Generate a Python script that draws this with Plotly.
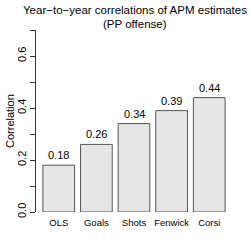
import plotly.graph_objects as go

categories = ["OLS", "Goals", "Shots", "Fenwick", "Corsi"]
values = [0.18, 0.26, 0.34, 0.39, 0.44]
labels = ["0.18", "0.26", "0.34", "0.39", "0.44"]
ytick_vals = [0.0, 0.1, 0.2, 0.3, 0.4, 0.5, 0.6, 0.7]
ytick_text = ["0.0", "", "0.2", "", "0.4", "", "0.6", ""]
title_lines = ["Year\u2212to\u2212year correlations of APM estimates", "(PP offense)"]

xpos = list(range(len(categories)))

fig = go.Figure()
fig.add_trace(go.Bar(
    x=xpos, y=values, width=0.842,
    marker=dict(color="#E6E6E6", line=dict(color="#555555", width=1)),
    hoverinfo="skip",
))

for xi, v, t in zip(xpos, values, labels):
    fig.add_annotation(x=xi, y=v, text=t, showarrow=False, yanchor="middle",
                       yshift=10, font=dict(size=11, color="black"))

# title lines (pixel rows ~10 and ~24; plot spans pixel rows 30..212)
for line, py in zip(title_lines, [10, 24]):
    fig.add_annotation(xref="paper", yref="paper", x=(134.5 - 36) / 196, y=(212 - py) / 182,
                       text=line, showarrow=False, xanchor="center", yanchor="middle",
                       font=dict(size=11.5, color="black"))

# y axis title
fig.add_annotation(xref="paper", yref="paper", x=(10 - 36) / 196, y=(212 - 121) / 182,
                   text="Correlation", showarrow=False, textangle=-90,
                   xanchor="center", yanchor="middle", font=dict(size=11, color="black"))

font_family = "Liberation Sans, Arial, sans-serif"
fig.update_layout(
    width=249, height=249,
    margin=dict(l=36, r=17, t=30, b=37, autoexpand=False),
    paper_bgcolor="white", plot_bgcolor="white",
    showlegend=False,
    font=dict(family=font_family, color="black"),
    xaxis=dict(range=[-0.605, 4.605], tickmode="array", tickvals=xpos, ticktext=categories,
               showgrid=False, zeroline=False, showline=False, ticks="",
               tickfont=dict(size=9.5), ticklabelstandoff=3, automargin=False, fixedrange=True),
    yaxis=dict(range=[0, 0.7], tickmode="array", tickvals=ytick_vals, ticktext=ytick_text,
               showgrid=False, zeroline=False, showline=True, linecolor="#333333", linewidth=1,
               ticks="outside", ticklen=5, tickcolor="#333333", tickangle=-90,
               tickfont=dict(size=11), automargin=False, fixedrange=True),
)

fig.write_html("out.html", config={"displayModeBar": False},
               post_script="document.body.style.margin='0';")
